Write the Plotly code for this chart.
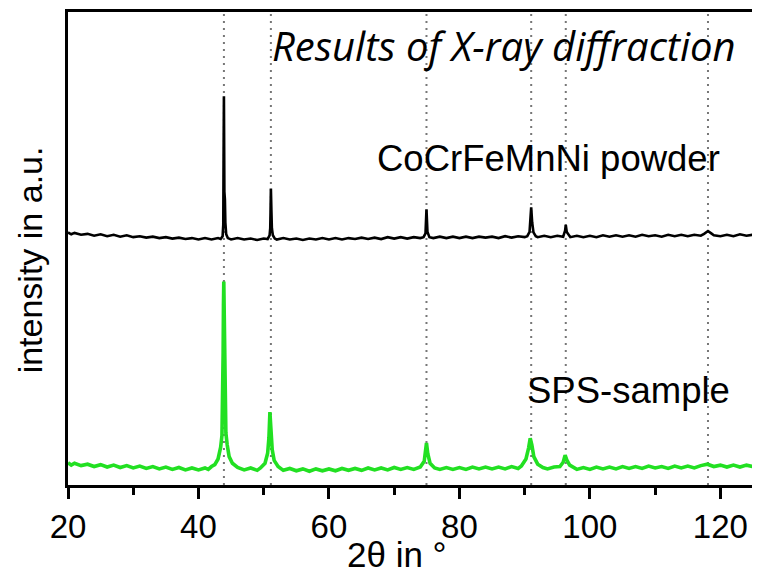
import plotly.graph_objects as go

# ---- data ----
powder_2theta = [20, 20.5, 21, 22, 23, 24, 25, 26, 27, 28, 29, 30, 31, 32, 33, 34, 35, 36, 37, 38, 39, 40, 41, 42, 43,
                 43.4, 43.7, 43.8, 43.85, 43.9, 43.97, 44.05, 44.12, 44.25, 44.5,
                 45, 46, 47, 48, 49, 50,
                 50.6, 50.9, 51.0, 51.05, 51.1, 51.18, 51.25, 51.4, 51.7,
                 52, 53, 54, 55, 56, 57, 58, 59, 60, 61, 62, 63, 64, 65, 66, 67, 68, 69, 70, 71, 72, 73, 74,
                 74.5, 74.8, 74.95, 75.1, 75.4,
                 76, 77, 78, 79, 80, 81, 82, 83, 84, 85, 86, 87, 88, 89, 90,
                 90.4, 90.75, 90.9, 91.0, 91.15, 91.35, 91.7,
                 92, 93, 94, 95,
                 95.9, 96.2, 96.3, 96.45, 96.8,
                 97, 98, 99, 100, 101, 102, 103, 104, 105, 106, 107, 108, 109, 110, 111, 112, 113, 114, 115, 116, 117,
                 117.5, 118.1, 118.6,
                 119, 120, 121, 122, 123, 124, 125]
powder_intensity = [53.4, 53.0, 53.3, 52.9, 53.1, 52.7, 53.0, 52.6, 52.9, 52.5, 52.8, 52.4, 52.6, 52.3, 52.5, 52.2, 52.4, 52.1, 52.3, 52.0, 52.2, 51.9, 52.2, 51.9, 52.2,
                    52.0, 52.6, 55.0, 70.0, 82.2, 62.0, 60.4, 55.5, 53.0, 52.2,
                    51.9, 52.2, 51.9, 52.1, 51.8, 52.1,
                    52.0, 52.8, 54.3, 58.0, 62.7, 58.0, 54.3, 52.8, 52.1,
                    51.9, 52.2, 51.9, 52.1, 51.8, 52.1, 51.9, 52.2, 51.9, 52.2, 51.9, 52.2, 52.0, 52.3, 52.0, 52.3, 52.0, 52.4, 52.1, 52.4, 52.1, 52.4, 52.2,
                    52.4, 53.2, 58.3, 53.5, 52.4,
                    52.2, 52.5, 52.2, 52.5, 52.2, 52.5, 52.2, 52.5, 52.3, 52.5, 52.2, 52.6, 52.3, 52.6, 52.4,
                    52.6, 53.5, 56.0, 58.7, 55.5, 53.4, 52.6,
                    52.4, 52.7, 52.4, 52.7,
                    52.5, 53.8, 55.0, 53.5, 52.6,
                    52.4, 52.7, 52.4, 52.7, 52.4, 52.8, 52.5, 52.8, 52.5, 52.8, 52.5, 52.9, 52.6, 52.8, 52.5, 52.9, 52.6, 52.9, 52.6, 52.9, 52.7,
                    53.1, 53.7, 53.2,
                    52.8, 52.6, 52.9, 52.6, 53.0, 52.7, 52.9]

sps_2theta = [20, 20.5, 21, 22, 23, 24, 25, 26, 27, 28, 29, 30, 31, 32, 33, 34, 35, 36, 37, 38, 39, 40, 41,
              41.5, 42, 42.5, 43.0, 43.4, 43.6, 43.7, 43.78, 43.83, 43.88, 43.95, 44.0, 44.05, 44.1, 44.2, 44.4, 44.7, 45.2,
              46, 47, 48, 49,
              49.5, 50.2, 50.6, 50.8, 50.95, 51.1, 51.3, 51.6, 52.2,
              53, 54, 55, 56, 57, 58, 59, 60, 61, 62, 63, 64, 65, 66, 67, 68, 69, 70, 71, 72, 73,
              74.0, 74.6, 74.85, 74.95, 75.15, 75.5, 76.2,
              77, 78, 79, 80, 81, 82, 83, 84, 85, 86, 87, 88, 89,
              89.5, 90.2, 90.6, 90.85, 91.1, 91.4, 92, 92.8,
              93.5, 94.5,
              95.4, 95.9, 96.2, 96.45, 96.9, 97.5,
              98, 99, 100, 101, 102, 103, 104, 105, 106, 107, 108, 109, 110, 111, 112, 113, 114, 115, 116, 117,
              118, 119, 120, 121, 122, 123, 124, 125]
sps_intensity = [4.7, 4.2, 4.6, 4.1, 4.4, 3.9, 4.3, 3.8, 4.2, 3.7, 4.1, 3.6, 4.0, 3.5, 3.9, 3.4, 3.8, 3.3, 3.7, 3.2, 3.6, 3.2, 3.6,
                 3.3, 3.9, 4.3, 5.5, 8.0, 10.5, 16.0, 28.0, 38.0, 43.0, 36.0, 29.1, 22.0, 15.7, 11.0, 8.5, 6.0, 4.6,
                 3.7, 3.2, 3.6, 3.1,
                 3.6, 4.6, 6.7, 10.0, 15.4, 12.0, 7.5, 5.2, 3.9,
                 3.1, 3.5, 3.0, 3.4, 2.9, 3.4, 3.0, 3.4, 3.0, 3.5, 3.1, 3.5, 3.1, 3.6, 3.2, 3.6, 3.2, 3.7, 3.3, 3.7, 3.3,
                 3.8, 5.0, 7.5, 8.9, 6.6, 4.6, 3.6,
                 3.3, 3.7, 3.3, 3.7, 3.3, 3.8, 3.4, 3.8, 3.4, 3.8, 3.4, 3.9, 3.5,
                 4.0, 5.5, 7.8, 9.9, 8.5, 6.0, 4.4, 3.7,
                 3.4, 3.8,
                 3.9, 4.8, 6.3, 5.3, 4.2, 3.6,
                 3.3, 3.7, 3.3, 3.8, 3.4, 3.8, 3.4, 3.9, 3.5, 3.9, 3.5, 4.0, 3.6, 3.9, 3.5, 4.0, 3.6, 4.0, 3.6, 4.1,
                 4.4, 3.9, 4.2, 3.8, 4.2, 3.8, 4.2, 3.9]

reference_peaks = [43.9, 51.1, 74.95, 91.0, 96.3, 118.1]

x_major_ticks = [20, 40, 60, 80, 100, 120]

title_text = "Results of X-ray diffraction"
powder_label = "CoCrFeMnNi powder"
sps_label = "SPS-sample"
x_title = "2θ in °"
y_title = "intensity in a.u."

ARIAL = "Liberation Sans, Arial, sans-serif"

fig = go.Figure()
fig.add_trace(go.Scatter(x=powder_2theta, y=powder_intensity, mode="lines",
                         line=dict(color="#000000", width=2.6), showlegend=False))
fig.add_trace(go.Scatter(x=sps_2theta, y=sps_intensity, mode="lines",
                         line=dict(color="#22E022", width=3.6), showlegend=False))

for p in reference_peaks:
    fig.add_shape(type="line", xref="x", yref="paper", x0=p, x1=p, y0=0, y1=1,
                  line=dict(color="#777777", width=2, dash="2px,5px"), layer="below")

fig.add_annotation(text=title_text, xref="paper", yref="paper", x=0.978, y=0.93,
                   xanchor="right", yanchor="middle", showarrow=False,
                   font=dict(family="Open Sans, Noto Sans, sans-serif", size=40, color="#000", style="italic"))
fig.add_annotation(text=powder_label, xref="paper", yref="paper", x=0.955, y=0.691,
                   xanchor="right", yanchor="middle", showarrow=False,
                   font=dict(family=ARIAL, size=36.5, color="#000"))
fig.add_annotation(text=sps_label, xref="paper", yref="paper", x=0.969, y=0.2,
                   xanchor="right", yanchor="middle", showarrow=False,
                   font=dict(family=ARIAL, size=36.5, color="#000"))
fig.add_annotation(text=x_title, xref="paper", yref="paper", x=0.480, y=-0.147,
                   xanchor="center", yanchor="middle", showarrow=False,
                   font=dict(family=ARIAL, size=35, color="#000"))
fig.add_annotation(text=y_title, xref="paper", yref="paper", x=-0.0555, y=0.477,
                   xanchor="center", yanchor="middle", showarrow=False, textangle=-90,
                   font=dict(family=ARIAL, size=34, color="#000"))

# the page body adds an 8 px offset, so the figure is sized to the remaining window
fig.update_layout(
    width=752, height=566,
    margin=dict(l=60, r=7, t=1, b=89),
    paper_bgcolor="white", plot_bgcolor="white",
    xaxis=dict(range=[20, 125], tickvals=x_major_ticks, ticks="outside", ticklen=11, tickwidth=2.5,
               tickcolor="#000", showline=True, linewidth=2.5, linecolor="#000", mirror=True,
               showgrid=False, zeroline=False,
               tickfont=dict(family=ARIAL, size=33, color="#000"),
               minor=dict(dtick=10, tick0=20, ticks="outside", ticklen=7, tickwidth=2.5, tickcolor="#000", showgrid=False)),
    yaxis=dict(range=[0, 100], showticklabels=False, ticks="", showline=True, linewidth=2.5,
               linecolor="#000", mirror=True, showgrid=False, zeroline=False),
)

fig.write_html("out.html")
